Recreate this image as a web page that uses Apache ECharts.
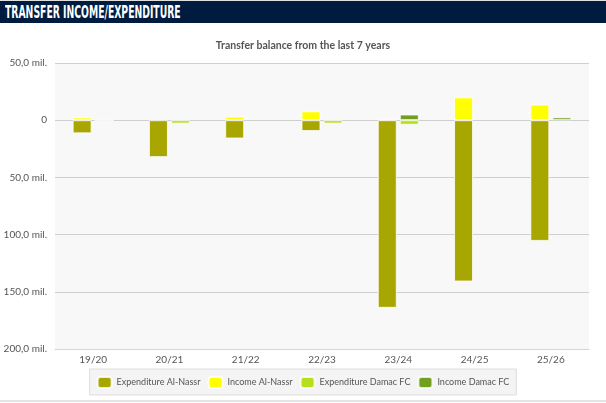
<!DOCTYPE html>
<html>
<head>
<meta charset="utf-8">
<title>Transfer income/expenditure</title>
<script src="https://cdn.jsdelivr.net/npm/echarts@6/dist/echarts.min.js"></script>
<style>
    html, body { margin: 0; padding: 0; background: #fff; }
    .box { width: 606px; height: 403px; position: relative; overflow: hidden; border-top: 1px solid #e0e0e0; box-sizing: border-box; }
    .head {
        position: absolute; left: 0; top: 0; width: 606px; height: 22px;
        background: #001b40; overflow: hidden;
    }
    .head span {
        position: absolute; left: 5px; top: 0; color: #fff; white-space: nowrap;
        font-family: "DejaVu Sans", sans-serif; font-weight: bold; font-size: 17px; line-height: 23px;
        transform: scaleX(0.545); transform-origin: left center;
    }
    .bottom { position: absolute; left: 0; top: 399px; width: 606px; height: 2px; background: #e4e4e4; }
    #chart { position: absolute; left: 0; top: 22px; width: 606px; height: 377px; }
</style>
</head>
<body>
<div class="box">
    <div class="head"><span>TRANSFER INCOME/EXPENDITURE</span></div>
    <div id="chart"></div>
    <div class="bottom"></div>
</div>
<script>
    // seasons
    var seasons = ['19/20', '20/21', '21/22', '22/23', '23/24', '24/25', '25/26'];
    // values in mil. (expenditure negative), '-' = no transfer
    var expNassr = [-11.5, -32.3, -16, -9.5, -164, -141, -105.5];
    var incNassr = [2.5, '-', 3.2, 7.8, 1.5, 20, 13.7];
    var expDamac = [0, -3, '-', -3, -4, '-', '-'];
    var incDamac = ['-', '-', '-', '-', 5, '-', 2.5];

    var fontFam = 'Lato, "Open Sans", sans-serif';

    function bar(name, data, stack, color) {
        return {
            name: name,
            type: 'bar',
            stack: stack,
            data: data,
            barWidth: 19,
            barGap: '16%',
            itemStyle: { color: color, borderColor: 'rgba(255,255,255,0.8)', borderWidth: 1 }
        };
    }

    var myChart = echarts.init(document.getElementById('chart'));
    var option = {
        backgroundColor: '#ffffff',
        animation: false,
        title: {
            text: 'Transfer balance from the last 7 years',
            left: 'center',
            top: 12,
            textStyle: { fontFamily: fontFam, fontSize: 10.5, fontWeight: 'bold', color: '#555' }
        },
        grid: {
            left: 55, right: 17, top: 40, bottom: 51,
            show: true, backgroundColor: '#f8f8f8', borderWidth: 0
        },
        legend: {
            bottom: 5,
            left: 'center',
            itemWidth: 14,
            itemHeight: 11,
            itemGap: 7,
            padding: [7, 7, 6, 7],
            backgroundColor: '#f4f4f4',
            borderColor: '#dddddd',
            borderWidth: 1,
            borderRadius: 0,
            icon: 'roundRect',
            textStyle: { fontFamily: fontFam, fontSize: 9, color: '#555' },
            data: ['Expenditure Al-Nassr', 'Income Al-Nassr', 'Expenditure Damac FC', 'Income Damac FC']
        },
        xAxis: {
            type: 'category',
            data: seasons,
            axisLine: { onZero: false, lineStyle: { color: '#ccd6eb' } },
            axisTick: { lineStyle: { color: '#ccd6eb' }, length: 5 },
            axisLabel: { fontFamily: fontFam, fontSize: 10, color: '#555', margin: 6 }
        },
        yAxis: {
            type: 'value',
            min: -200,
            max: 50,
            interval: 50,
            axisLine: { show: false },
            axisTick: { show: false },
            splitLine: { lineStyle: { color: '#cfcfcf' } },
            axisLabel: {
                fontFamily: fontFam, fontSize: 10, color: '#555', margin: 8,
                formatter: function (v) { return v === 0 ? '0' : Math.abs(v) + ',0 mil.'; }
            }
        },
        series: [
            bar('Expenditure Al-Nassr', expNassr, 'nassr', '#a8a600'),
            bar('Income Al-Nassr', incNassr, 'nassr', '#ffff00'),
            bar('Expenditure Damac FC', expDamac, 'damac', '#b6e01a'),
            bar('Income Damac FC', incDamac, 'damac', '#70a01c')
        ]
    };
    myChart.setOption(option);
</script>
</body>
</html>
